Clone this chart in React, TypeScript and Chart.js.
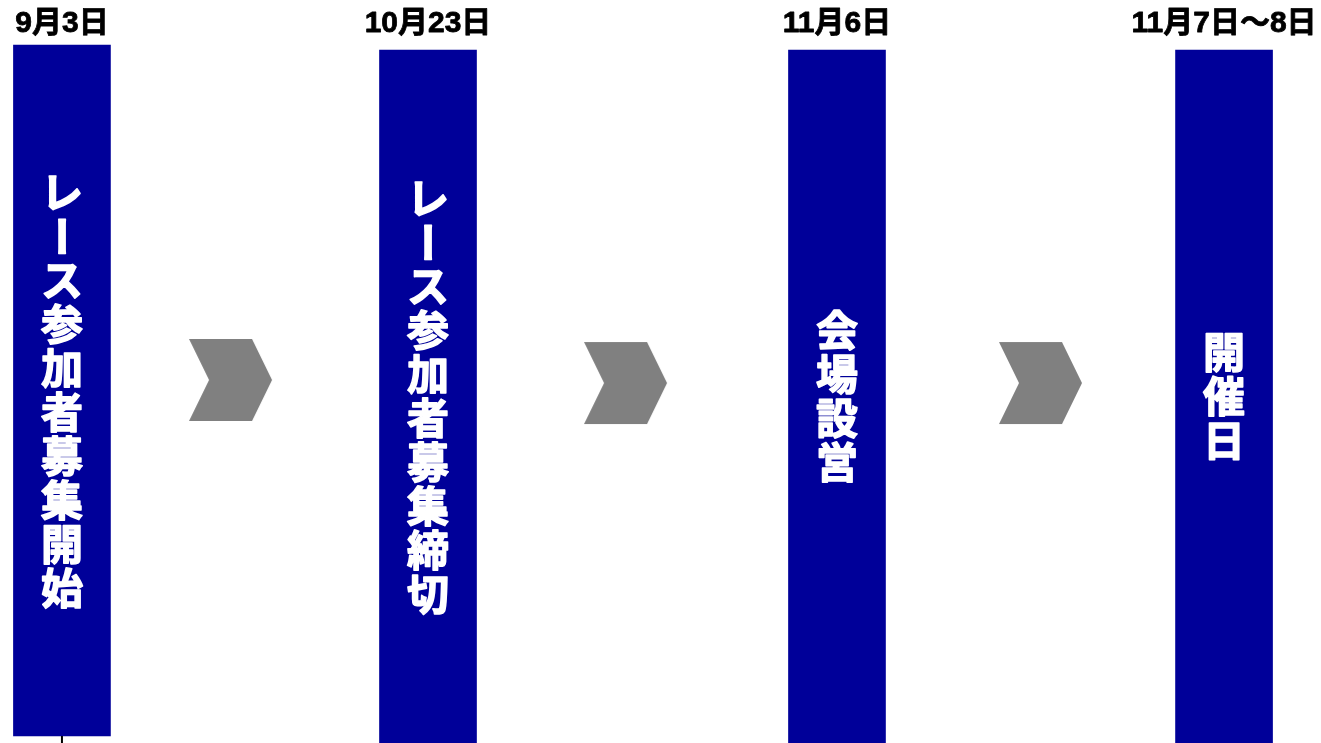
import React, { useEffect, useRef } from "react";
import { Chart, registerables } from "chart.js";

Chart.register(...registerables);

// Timeline stages (x position on a 0-100 track, bar spans on a 0-100 height scale)
const barPositions = [4.69, 32.4, 63.36, 92.66];
const barStarts = [0.94, 0, 0, 0];
const barEnds = [93.94, 93.27, 93.27, 93.27];
const dateLabels = ["9月3日", "10月23日", "11月6日", "11月7日～8日"];
const stageLabels = ["レース参加者募集開始", "レース参加者募集締切", "会場設営", "開催日"];

// Arrows between stages
const arrowPositions = [17.49, 47.39, 78.8];
const arrowLevels = [48.86, 48.45, 48.45];

const BAR_COLOR = "#000099";
const ARROW_COLOR = "#808080";

function makeChevron(): HTMLCanvasElement {
  const c = document.createElement("canvas");
  c.width = 84;
  c.height = 84;
  const g = c.getContext("2d")!;
  g.fillStyle = ARROW_COLOR;
  g.beginPath();
  g.moveTo(0, 1);
  g.lineTo(63, 1);
  g.lineTo(83, 42);
  g.lineTo(63, 83);
  g.lineTo(0, 83);
  g.lineTo(20, 42);
  g.closePath();
  g.fill();
  return c;
}

const textPlugin = {
  id: "stageText",
  afterDatasetsDraw(chart: any) {
    const ctx = chart.ctx as CanvasRenderingContext2D;
    const meta = chart.getDatasetMeta(0);
    const area = chart.chartArea;
    ctx.save();
    meta.data.forEach((bar: any, i: number) => {
      const x = bar.x;
      // date label above
      ctx.fillStyle = "#000000";
      ctx.strokeStyle = "#000000";
      ctx.lineWidth = 0.8;
      ctx.font = 'bold 30px "Liberation Sans", "Noto Sans CJK JP", sans-serif';
      ctx.textAlign = "center";
      ctx.textBaseline = "middle";
      ctx.fillText(dateLabels[i], x, area.top + 24);
      ctx.strokeText(dateLabels[i], x, area.top + 24);

      // vertical stage text
      const label = stageLabels[i];
      const chars = Array.from(label);
      const pitch = 44;
      const top = Math.min(bar.y, bar.base);
      const bottom = Math.max(bar.y, bar.base);
      const cy = (top + bottom) / 2;
      const start = cy - (chars.length * pitch) / 2;
      ctx.fillStyle = "#ffffff";
      ctx.strokeStyle = "#ffffff";
      ctx.lineWidth = 1.5;
      ctx.lineJoin = "round";
      ctx.font = 'bold 42px "Noto Sans CJK JP", sans-serif';
      chars.forEach((ch, k) => {
        const yy = start + k * pitch + pitch / 2;
        if (ch === "ー") {
          ctx.save();
          ctx.translate(x, yy);
          ctx.rotate(Math.PI / 2);
          ctx.fillText(ch, 0, 0);
          ctx.strokeText(ch, 0, 0);
          ctx.restore();
        } else {
          ctx.fillText(ch, x, yy);
          ctx.strokeText(ch, x, yy);
        }
      });
    });
    // small tick under the first bar
    const first = meta.data[0];
    if (first) {
      ctx.strokeStyle = "#000000";
      ctx.lineWidth = 2;
      ctx.beginPath();
      ctx.moveTo(first.x, first.base);
      ctx.lineTo(first.x, area.bottom);
      ctx.stroke();
    }
    ctx.restore();
  },
};

export default function App() {
  const ref = useRef<HTMLCanvasElement>(null);
  useEffect(() => {
    document.body.style.margin = "0";
    const chevron = makeChevron();
    const chart = new Chart(ref.current!, {
      type: "bar",
      data: {
        datasets: [
          {
            type: "bar",
            data: barPositions.map((p, i) => ({ x: p, y: [barStarts[i], barEnds[i]] })) as any,
            backgroundColor: BAR_COLOR,
            borderWidth: 0,
            barThickness: 97,
          } as any,
          {
            type: "scatter",
            data: arrowPositions.map((p, i) => ({ x: p, y: arrowLevels[i] })),
            pointStyle: chevron as any,
            pointRadius: 42,
          } as any,
        ],
      },
      options: {
        responsive: false,
        animation: false,
        layout: { padding: 0, autoPadding: false } as any,
        plugins: { legend: { display: false }, tooltip: { enabled: false } },
        scales: {
          x: { type: "linear", min: 0, max: 100, display: false, offset: false },
          y: { type: "linear", min: 0, max: 100, display: false },
        },
      },
      plugins: [textPlugin],
    });
    return () => chart.destroy();
  }, []);
  return (
    <div style={{ position: "absolute", left: 0, top: 0, width: 1321, height: 743 }}>
      <canvas ref={ref} width={1321} height={743} />
    </div>
  );
}
